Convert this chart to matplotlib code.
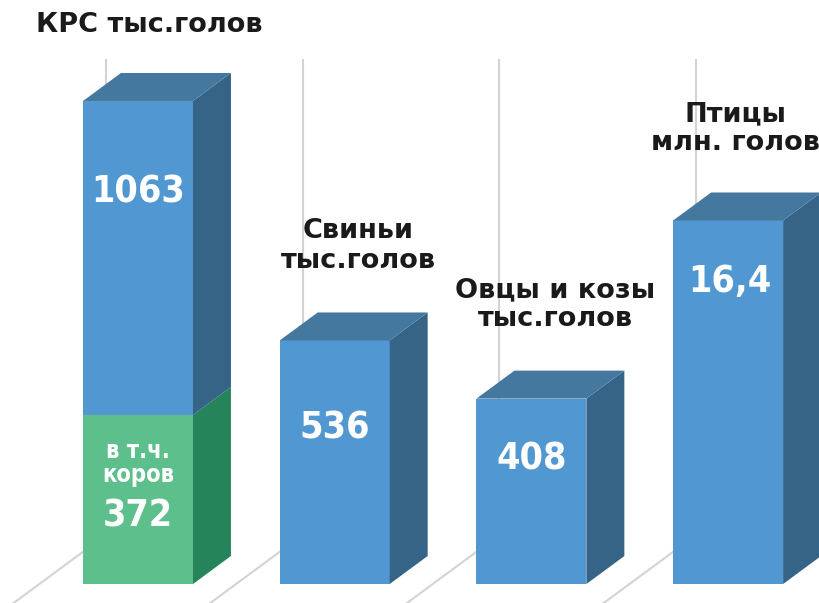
import matplotlib
matplotlib.use('Agg')
import matplotlib.pyplot as plt
from matplotlib.patches import Polygon

# Data (thousand heads; poultry is million heads, drawn on its own scale)
categories = ['КРС тыс.голов', 'Свиньи\nтыс.голов', 'Овцы и козы\nтыс.голов', 'Птицы\nмлн. голов']
values = [1063, 536, 408, 16.4]
bar_heights = [1063, 536, 408, 800]
value_labels = ['1063', '536', '408', '16,4']
cows = 372
cows_label = 'в т.ч.\nкоров'

# Colours
front_blue = '#5197D1'
top_blue = '#45789F'
side_blue = '#356487'
front_green = '#5DBF8C'
side_green = '#26845B'
grid_col = '#D3D3D3'

fig = plt.figure(figsize=(8.19, 6.03), dpi=100)
ax = fig.add_axes([0, 0, 1, 1])
ax.set_xlim(-0.7016, 3.462)
ax.set_ylim(-41.8, 1285.2)
ax.axis('off')

width = 0.559
dx, dy = 0.193, 61.6


def box(x0, y0, y1, front, side, top=None):
    x1 = x0 + width
    ax.add_patch(Polygon([(x0, y0), (x1, y0), (x1, y1), (x0, y1)], closed=True,
                         facecolor=front, edgecolor='none', zorder=3))
    ax.add_patch(Polygon([(x1, y0), (x1 + dx, y0 + dy), (x1 + dx, y1 + dy), (x1, y1)],
                         closed=True, facecolor=side, edgecolor='none', zorder=3))
    if top is not None:
        ax.add_patch(Polygon([(x0, y1), (x1, y1), (x1 + dx, y1 + dy), (x0 + dx, y1 + dy)],
                             closed=True, facecolor=top, edgecolor='none', zorder=3))


# back wall gridlines and floor lines
for i in range(len(categories)):
    gx = i - 0.163
    ax.plot([gx, gx], [108, 1153], color=grid_col, lw=1.5, zorder=1)
    k = 4.0
    ax.plot([gx, gx - k * dx], [108, 108 - k * dy], color=grid_col, lw=1.5, zorder=1)

# bars
for i, h in enumerate(bar_heights):
    x0 = i - width / 2
    if i == 0:
        box(x0, 0, cows, front_green, side_green)
        box(x0, cows, h, front_blue, side_blue, top_blue)
    else:
        box(x0, 0, h, front_blue, side_blue, top_blue)

num_font = dict(family='DejaVu Sans', stretch='condensed', weight='bold',
                color='white', ha='center', va='center', zorder=5)
title_font = dict(family='DejaVu Sans', weight='heavy', color='#1A1A1A',
                  va='center', zorder=5)

# value labels
ax.text(0.002, 862, value_labels[0], fontsize=27, **num_font)
ax.text(1, 343, value_labels[1], fontsize=27, **num_font)
ax.text(2, 275, value_labels[2], fontsize=27, **num_font)
ax.text(3.01, 664, value_labels[3], fontsize=27, **num_font)
ax.text(0, 266, cows_label, fontsize=17, linespacing=1.0, **num_font)
ax.text(0, 148, str(cows), fontsize=27, **num_font)

# category titles
ax.text(-0.518, 1230, categories[0], fontsize=19.5, ha='left', **title_font)
ax.text(1.12, 744, categories[1], fontsize=19.5, ha='center', linespacing=1.18, **title_font)
ax.text(2.12, 614, categories[2], fontsize=19.5, ha='center', linespacing=1.12, **title_font)
ax.text(3.04, 1002, categories[3], fontsize=19.5, ha='center', linespacing=1.1, **title_font)

fig.savefig('out.png', dpi=100, facecolor='white')
